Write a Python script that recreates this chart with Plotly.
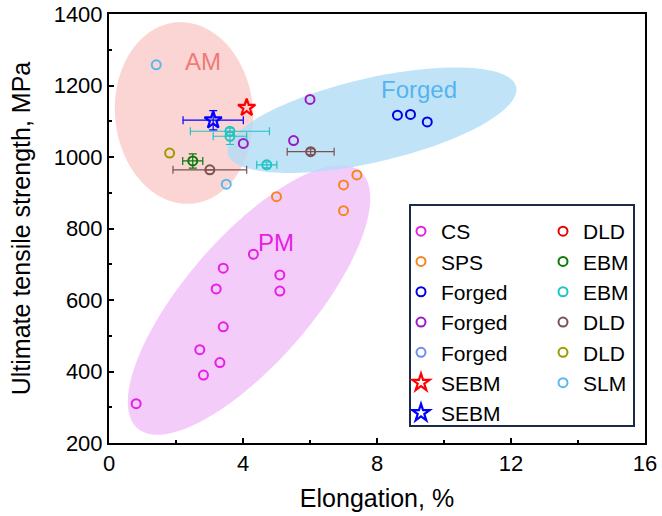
import numpy as np
import plotly.graph_objects as go

# ---------------- data ----------------
cs_x = [0.81, 2.82, 3.31, 2.71, 3.41, 3.20, 3.41, 4.31, 5.10, 5.10]
cs_y = [310, 390, 425, 461, 525, 631, 689, 728, 670, 625]

sps_x = [5.0, 7.0, 7.4, 7.0]
sps_y = [889, 922, 950, 850]

forged_blue_x = [8.61, 9.0, 9.5]
forged_blue_y = [1117, 1119, 1098]

forged_purple_x = [6.0, 5.51, 4.01]
forged_purple_y = [1161, 1046, 1038]

forged_light_x = [None]
forged_light_y = [None]

sebm_red_x = [4.11]
sebm_red_y = [1138]

sebm_blue_x = [3.11]
sebm_blue_y = [1103]
sebm_blue_xerr = [0.9]
sebm_blue_yerr = [27]

dld_red_x = [None]
dld_red_y = [None]

ebm_green_x = [2.50]
ebm_green_y = [989]
ebm_green_xerr = [0.3]
ebm_green_yerr = [20]

ebm_cyan_x = [3.61, 3.61, 4.71]
ebm_cyan_y = [1072, 1058, 978]
ebm_cyan_xerr = [1.18, 0.5, 0.3]
ebm_cyan_yerr = [0, 23, 8]

dld_brown_x = [3.01, 6.02]
dld_brown_y = [964, 1015]
dld_brown_xerr = [1.1, 0.7]
dld_brown_yerr = [0, 8]

dld_olive_x = [1.81]
dld_olive_y = [1011]

slm_x = [1.41, 3.50]
slm_y = [1258, 924]

x_ticks = [0, 4, 8, 12, 16]
y_ticks = [200, 400, 600, 800, 1000, 1200, 1400]

FONT = "Arial, Liberation Sans, sans-serif"

# ---------------- layout geometry ----------------
W, H = 662, 516
ML, MR, MT, MB = 109, 17, 14, 73
PW, PH = W - ML - MR, H - MT - MB
XR = [0, 16]
YR = [200, 1400]
PX_X = PW / (XR[1] - XR[0])
PX_Y = PH / (YR[1] - YR[0])


def ellipse_path(cx, cy, a_px, b_px, theta_deg, n=120):
    th = np.deg2rad(theta_deg)
    t = np.linspace(0, 2 * np.pi, n)
    dx = a_px * np.cos(t) * np.cos(th) - b_px * np.sin(t) * np.sin(th)
    dy = a_px * np.cos(t) * np.sin(th) + b_px * np.sin(t) * np.cos(th)
    xs = cx + dx / PX_X
    ys = cy + dy / PX_Y
    pts = [f"{x:.4f},{y:.3f}" for x, y in zip(xs, ys)]
    return "M " + " L ".join(pts) + " Z"


regions = [
    dict(cx=4.18, cy=600, a=170, b=63, th=49, color="rgba(236,170,246,0.6)"),
    dict(cx=2.24, cy=1123, a=91, b=69, th=95, color="rgba(250,195,192,0.7)"),
    dict(cx=7.85, cy=1103, a=148, b=42, th=13, color="rgba(178,220,246,0.8)"),
]

fig = go.Figure()

shapes = []
for r in regions:
    shapes.append(dict(type="path", xref="x", yref="y",
                       path=ellipse_path(r["cx"], r["cy"], r["a"], r["b"], r["th"]),
                       fillcolor=r["color"], line=dict(width=0), layer="below"))

# legend box
shapes.append(dict(type="rect", xref="paper", yref="paper",
                   x0=(410 - ML) / PW, x1=(634 - ML) / PW,
                   y0=1 - (426 - MT) / PH, y1=1 - (205 - MT) / PH,
                   line=dict(color="#1c2a4a", width=2), fillcolor="rgba(255,255,255,0)",
                   layer="above"))


def add(name, x, y, color, symbol="circle-open", size=9, lw=2, legend="legend",
        xerr=None, yerr=None, rank=1):
    kw = {}
    if xerr is not None:
        kw["error_x"] = dict(type="data", array=xerr, color=color, thickness=1.2, width=4)
    if yerr is not None:
        kw["error_y"] = dict(type="data", array=yerr, color=color, thickness=1.2, width=4)
    fig.add_trace(go.Scatter(
        x=x, y=y, mode="markers", name=name, legend=legend, legendrank=rank,
        marker=dict(symbol=symbol, size=size, color=color, line=dict(width=lw, color=color)),
        **kw))


# left column
add("CS", cs_x, cs_y, "#e61ee6", rank=1)
add("SPS", sps_x, sps_y, "#f5861f", rank=2)
add("Forged", forged_blue_x, forged_blue_y, "#0000e6", rank=3)
add("Forged", forged_purple_x, forged_purple_y, "#9b19c8", rank=4)
add("Forged", forged_light_x, forged_light_y, "#6b8ef0", rank=5)
# right column
add("DLD", dld_red_x, dld_red_y, "#e60000", legend="legend2", rank=1)
add("EBM", ebm_green_x, ebm_green_y, "#0a7a0a", legend="legend2",
    xerr=ebm_green_xerr, yerr=ebm_green_yerr, rank=2)
add("EBM", ebm_cyan_x, ebm_cyan_y, "#1fc4c4", legend="legend2",
    xerr=ebm_cyan_xerr, yerr=ebm_cyan_yerr, rank=3)
add("DLD", dld_brown_x, dld_brown_y, "#7a5050", legend="legend2",
    xerr=dld_brown_xerr, yerr=dld_brown_yerr, rank=4)
add("DLD", dld_olive_x, dld_olive_y, "#999900", legend="legend2", rank=5)
add("SLM", slm_x, slm_y, "#5ab8ee", legend="legend2", rank=6)
add("SEBM", sebm_red_x, sebm_red_y, "#ff0000", symbol="star-open", size=13, lw=2.2, rank=6)
add("SEBM", sebm_blue_x, sebm_blue_y, "#0000ff", symbol="star-open", size=13, lw=2.2,
    xerr=sebm_blue_xerr, yerr=sebm_blue_yerr, rank=7)

axis_common = dict(showline=True, linecolor="black", linewidth=2, mirror=True,
                   ticks="inside", ticklen=5, tickwidth=1.5, tickcolor="black",
                   showgrid=False, zeroline=False, automargin=False,
                   tickfont=dict(family=FONT, size=22, color="black"))

fig.update_layout(
    width=W, height=H,
    margin=dict(l=ML, r=MR, t=MT, b=MB),
    paper_bgcolor="white", plot_bgcolor="white",
    shapes=shapes,
    xaxis=dict(range=XR, tickvals=x_ticks, ticktext=[str(v) for v in x_ticks],
               title=dict(text="Elongation, %", font=dict(family=FONT, size=25, color="black"),
                          standoff=14),
               minor=dict(ticks="inside", ticklen=3, tickwidth=1.5,
                          tickcolor="black", tickvals=[2, 6, 10, 14]),
               **axis_common),
    yaxis=dict(range=YR, tickvals=y_ticks, ticktext=[str(v) for v in y_ticks],
               title=dict(text="Ultimate tensile strength, MPa",
                          font=dict(family=FONT, size=25, color="black"), standoff=16),
               minor=dict(ticks="inside", ticklen=3, tickwidth=1.5, tickcolor="black",
                          tickvals=[300, 500, 700, 900, 1100, 1300]),
               **axis_common),
    legend=dict(x=(401 - ML) / PW, y=1 - (211 - MT) / PH, xanchor="left", yanchor="top",
                bgcolor="rgba(0,0,0,0)", borderwidth=0,
                font=dict(family=FONT, size=21, color="black"), tracegroupgap=0,
                itemsizing="trace"),
    legend2=dict(x=(543 - ML) / PW, y=1 - (211 - MT) / PH, xanchor="left", yanchor="top",
                 bgcolor="rgba(0,0,0,0)", borderwidth=0,
                 font=dict(family=FONT, size=21, color="black"), tracegroupgap=0,
                 itemsizing="trace"),
    annotations=[
        dict(x=2.8, y=1267, xref="x", yref="y", text="AM", showarrow=False,
             font=dict(family=FONT, size=24, color="#f07a78")),
        dict(x=9.25, y=1190, xref="x", yref="y", text="Forged", showarrow=False,
             font=dict(family=FONT, size=24, color="#55b4ee")),
        dict(x=4.98, y=762, xref="x", yref="y", text="PM", showarrow=False,
             font=dict(family=FONT, size=24, color="#e61ee6")),
    ],
)

fig.write_html("out.html")
